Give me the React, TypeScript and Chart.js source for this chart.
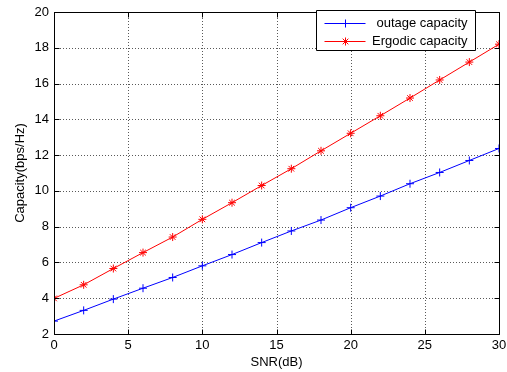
import React, { useEffect, useRef } from "react";
import { Chart, registerables } from "chart.js";

Chart.register(...registerables);

const snr = [0, 2, 4, 6, 8, 10, 12, 14, 16, 18, 20, 22, 24, 26, 28, 30];
const outageCapacity = [2.72, 3.32, 3.95, 4.56, 5.16, 5.81, 6.44, 7.11, 7.76, 8.37, 9.06, 9.71, 10.4, 11.03, 11.7, 12.37];
const ergodicCapacity = [3.99, 4.75, 5.66, 6.55, 7.42, 8.41, 9.34, 10.3, 11.24, 12.24, 13.22, 14.2, 15.19, 16.2, 17.2, 18.2];
const seriesLabels = ["outage capacity", "Ergodic capacity"];
const seriesColors = ["#0000ff", "#ff0000"];
const seriesMarkers = ["cross", "star"];
const xTitle = "SNR(dB)";
const yTitle = "Capacity(bps/Hz)";

const FONT = "'Liberation Sans', Arial, sans-serif";

const gridPlugin = {
  id: "dottedGrid",
  beforeDatasetsDraw(chart: any) {
    const { ctx, chartArea } = chart;
    const { left, right, top, bottom } = chartArea;
    const xs = chart.scales.x;
    const ys = chart.scales.y;
    ctx.save();
    ctx.strokeStyle = "rgba(0,0,0,0.65)";
    ctx.lineWidth = 1;
    ctx.setLineDash([1, 2]);
    ctx.beginPath();
    xs.ticks.forEach((t: any) => {
      const px = Math.round(xs.getPixelForValue(t.value)) + 0.5;
      ctx.moveTo(px, top);
      ctx.lineTo(px, bottom);
    });
    ys.ticks.forEach((t: any) => {
      const py = Math.round(ys.getPixelForValue(t.value)) + 0.5;
      ctx.moveTo(left, py);
      ctx.lineTo(right, py);
    });
    ctx.stroke();
    ctx.restore();
  },
};

const framePlugin = {
  id: "frameBox",
  afterDraw(chart: any) {
    const ctx = chart.ctx;
    const ca = chart.chartArea;
    const L = Math.round(ca.left) + 0.5;
    const R = Math.round(ca.right) + 0.5;
    const T = Math.round(ca.top) + 0.5;
    const B = Math.round(ca.bottom) + 0.5;
    ctx.save();
    ctx.setLineDash([]);
    ctx.globalAlpha = 1;
    ctx.strokeStyle = "#000000";
    ctx.lineWidth = 1;
    ctx.beginPath();
    ctx.moveTo(L, T);
    ctx.lineTo(R, T);
    ctx.lineTo(R, B);
    ctx.lineTo(L, B);
    ctx.closePath();
    const tl = 5;
    const xs = chart.scales.x;
    const ys = chart.scales.y;
    xs.ticks.forEach((t: any) => {
      const px = Math.round(xs.getPixelForValue(t.value)) + 0.5;
      ctx.moveTo(px, B);
      ctx.lineTo(px, B - tl);
      ctx.moveTo(px, T);
      ctx.lineTo(px, T + tl);
    });
    ys.ticks.forEach((t: any) => {
      const py = Math.round(ys.getPixelForValue(t.value)) + 0.5;
      ctx.moveTo(L, py);
      ctx.lineTo(L + tl, py);
      ctx.moveTo(R, py);
      ctx.lineTo(R - tl, py);
    });
    ctx.stroke();

    // legend
    const bx = Math.round(ca.right) - 183 + 0.5;
    const by = Math.round(ca.top) - 2 + 0.5;
    const bw = 159;
    const bh = 40;
    ctx.fillStyle = "#ffffff";
    ctx.fillRect(bx, by, bw, bh);
    ctx.strokeStyle = "#000000";
    ctx.beginPath();
    ctx.rect(bx, by, bw, bh);
    ctx.stroke();
    ctx.font = `13px ${FONT}`;
    ctx.textAlign = "right";
    ctx.textBaseline = "middle";
    seriesLabels.forEach((label, i) => {
      const y = Math.round(by + 12 + i * 18) + 0.5;
      const col = seriesColors[i];
      ctx.strokeStyle = col;
      ctx.lineWidth = 1;
      ctx.beginPath();
      ctx.moveTo(bx + 8, y);
      ctx.lineTo(bx + 49, y);
      const cx = bx + 29;
      const r = 4;
      ctx.moveTo(cx - r, y);
      ctx.lineTo(cx + r, y);
      ctx.moveTo(cx, y - r);
      ctx.lineTo(cx, y + r);
      if (seriesMarkers[i] === "star") {
        const d = r * Math.SQRT1_2;
        ctx.moveTo(cx - d, y - d);
        ctx.lineTo(cx + d, y + d);
        ctx.moveTo(cx - d, y + d);
        ctx.lineTo(cx + d, y - d);
      }
      ctx.stroke();
      ctx.fillStyle = "#000000";
      ctx.fillText(label, bx + 151, y);
    });
    ctx.restore();
  },
};

export default function App() {
  const ref = useRef<HTMLCanvasElement>(null);
  useEffect(() => {
    if (!ref.current) return;
    const series = [outageCapacity, ergodicCapacity];
    const chart = new Chart(ref.current, {
      type: "line",
      data: {
        datasets: series.map((vals, k) => ({
          label: seriesLabels[k],
          data: snr.map((x, i) => ({ x, y: vals[i] })),
          borderColor: seriesColors[k],
          backgroundColor: seriesColors[k],
          borderWidth: 1,
          pointStyle: seriesMarkers[k],
          pointRadius: 4,
          pointBorderWidth: 1,
          pointBorderColor: seriesColors[k],
          tension: 0,
        })),
      },
      options: {
        animation: false,
        responsive: false,
        layout: { padding: { top: 12, right: 8, left: 0, bottom: 0 } },
        plugins: { legend: { display: false }, title: { display: false }, tooltip: { enabled: false } },
        scales: {
          x: {
            type: "linear",
            min: 0,
            max: 30,
            afterFit: (s: any) => { s.height = 38; s.paddingLeft = 0; s.paddingRight = 0; },
            ticks: { stepSize: 5, color: "#000", font: { family: FONT, size: 13 }, padding: 4, maxRotation: 0 },
            grid: { display: false, drawTicks: false, tickLength: 0 },
            border: { display: false },
            title: { display: true, text: xTitle, color: "#000", font: { family: FONT, size: 13 }, padding: { top: 0, bottom: 2 } },
          },
          y: {
            type: "linear",
            min: 2,
            max: 20,
            afterFit: (s: any) => { s.width = 54; s.paddingTop = 0; s.paddingBottom = 0; },
            ticks: { stepSize: 2, color: "#000", font: { family: FONT, size: 13 }, padding: 5 },
            grid: { display: false, drawTicks: false, tickLength: 0 },
            border: { display: false },
            title: { display: true, text: yTitle, color: "#000", font: { family: FONT, size: 13 }, padding: { top: 13, bottom: 0 } },
          },
        },
      },
      plugins: [gridPlugin, framePlugin],
    } as any);
    return () => chart.destroy();
  }, []);
  return (
    <div style={{ position: "fixed", left: 0, top: 0, width: 507, height: 372, background: "#fff" }}>
      <canvas ref={ref} width={507} height={372} style={{ display: "block", width: 507, height: 372 }} />
    </div>
  );
}
